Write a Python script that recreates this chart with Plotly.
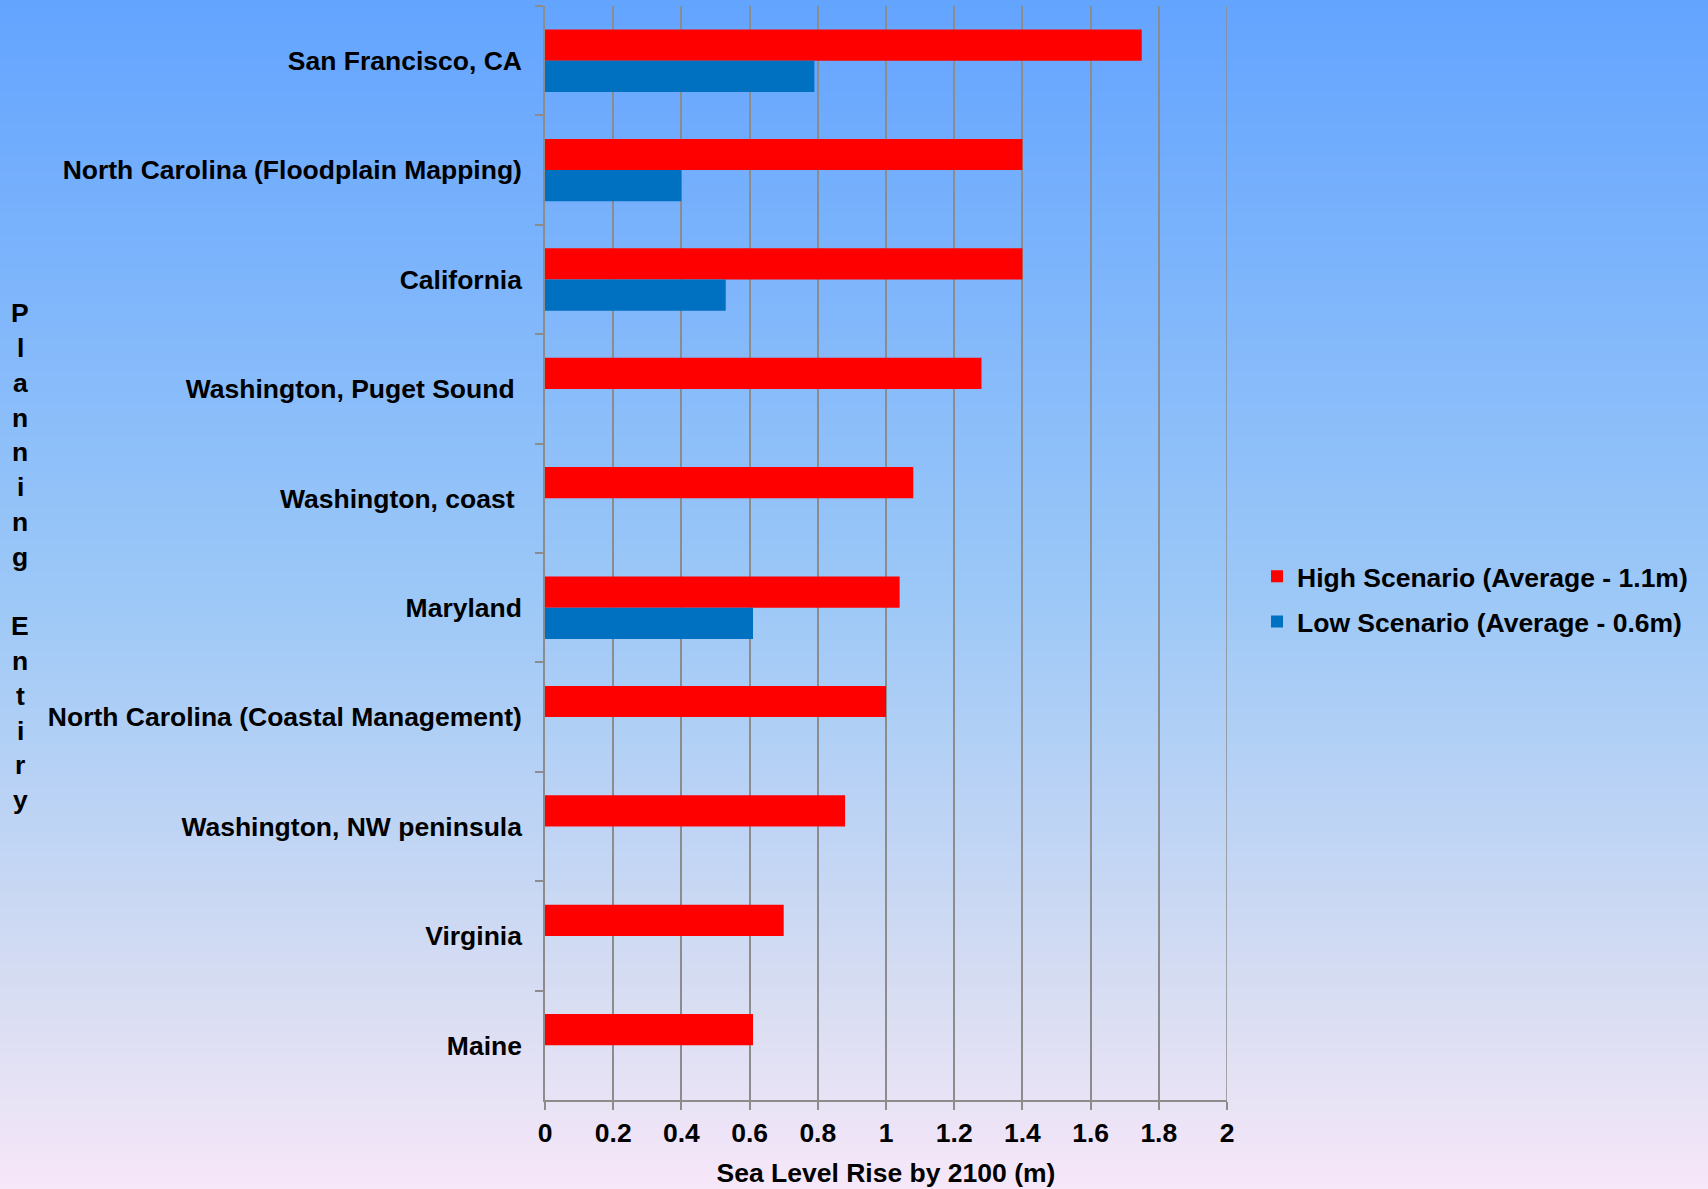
import base64, struct, zlib
import plotly.graph_objects as go

# ---------------- data ----------------
categories = [
    "San Francisco, CA",
    "North Carolina (Floodplain Mapping)",
    "California",
    "Washington, Puget Sound\u00a0",
    "Washington, coast\u00a0",
    "Maryland",
    "North Carolina (Coastal Management)",
    "Washington, NW peninsula",
    "Virginia",
    "Maine",
]
high_values = [1.75, 1.40, 1.40, 1.28, 1.08, 1.04, 1.00, 0.88, 0.70, 0.61]
low_values = [0.79, 0.40, 0.53, None, None, 0.61, None, None, None, None]
high_name = "High Scenario (Average - 1.1m)"
low_name = "Low Scenario (Average - 0.6m)"
x_ticks = [0, 0.2, 0.4, 0.6, 0.8, 1, 1.2, 1.4, 1.6, 1.8, 2]
x_tick_labels = ["0", "0.2", "0.4", "0.6", "0.8", "1", "1.2", "1.4", "1.6", "1.8", "2"]
x_max = 2
x_title = "Sea Level Rise by 2100 (m)"
y_title_words = ["Planning", "Entiry"]

# ---------------- layout geometry ----------------
W, H = 1708, 1189
ML, MR, MT, MB = 545, 481, 6, 87
PW, PH = W - ML - MR, H - MT - MB

FONT = "Liberation Sans, Arial, sans-serif"
FS = 26.5
GRID = "#8c8c8c"

# ---------------- gradient background (PNG) ----------------
stops = [(0.0, (99, 164, 255)), (0.5, (156, 200, 247)), (0.85, (218, 222, 242)), (1.0, (247, 231, 249))]

def color_at(t):
    for (t0, c0), (t1, c1) in zip(stops[:-1], stops[1:]):
        if t <= t1:
            f = (t - t0) / (t1 - t0)
            return tuple(int(round(a + (b - a) * f)) for a, b in zip(c0, c1))
    return stops[-1][1]

N = 256
raw = b""
for i in range(N):
    c = color_at(i / (N - 1))
    raw += b"\x00" + bytes(c) * 2

def chunk(tag, data):
    return struct.pack(">I", len(data)) + tag + data + struct.pack(">I", zlib.crc32(tag + data) & 0xffffffff)

png = b"\x89PNG\r\n\x1a\n" + chunk(b"IHDR", struct.pack(">IIBBBBB", 2, N, 8, 2, 0, 0, 0)) \
    + chunk(b"IDAT", zlib.compress(raw, 9)) + chunk(b"IEND", b"")
bg_uri = "data:image/png;base64," + base64.b64encode(png).decode()

# ---------------- figure ----------------
fig = go.Figure()
fig.add_trace(go.Bar(y=categories, x=high_values, name=high_name, orientation="h",
                     legendgroup="high",
                     marker=dict(color="#ff0000", line=dict(width=0))))
fig.add_trace(go.Bar(y=categories, x=low_values, name=low_name, orientation="h",
                     legendgroup="low",
                     marker=dict(color="#0070c0", line=dict(width=0))))

EXT = 4  # extend background a few pixels beyond the page edges
fig.update_layout(
    width=W, height=H,
    margin=dict(l=ML, r=MR, t=MT, b=MB, pad=0),
    paper_bgcolor="rgb(230,225,246)",
    plot_bgcolor="rgba(0,0,0,0)",
    barmode="group", bargap=0.43, bargroupgap=0,
    font=dict(family=FONT, size=FS, color="black", weight="bold"),
    showlegend=True,
    legend=dict(x=1.044, y=0.458, xanchor="left", yanchor="middle",
                bgcolor="rgba(0,0,0,0)", font=dict(size=FS, weight="bold"),
                tracegroupgap=8, itemwidth=30, traceorder="grouped"),
    images=[dict(source=bg_uri, xref="paper", yref="paper",
                 x=-(ML + EXT) / PW, y=1 + (MT + EXT) / PH,
                 sizex=(W + 2 * EXT) / PW, sizey=(H + 2 * EXT) / PH,
                 xanchor="left", yanchor="top", sizing="stretch", layer="below")],
    # gridline at the right edge of the range (plotly hides edge gridlines)
    shapes=[dict(type="line", xref="x", yref="paper", x0=x_max, x1=x_max, y0=0, y1=1,
                 line=dict(color=GRID, width=1.5), layer="below")],
)

fig.update_xaxes(
    range=[0, x_max], tickvals=x_ticks, ticktext=x_tick_labels,
    showgrid=True, gridcolor=GRID, gridwidth=1.5,
    showline=True, linecolor=GRID, linewidth=1.5,
    ticks="outside", ticklen=8, tickwidth=1.5, tickcolor=GRID,
    tickfont=dict(size=FS, weight="bold"), zeroline=False,
    title=dict(text=x_title, font=dict(size=FS, weight="bold"), standoff=17),
)
fig.update_yaxes(
    categoryorder="array", categoryarray=categories, autorange="reversed",
    showgrid=False, showline=True, linecolor=GRID, linewidth=1.5,
    ticks="outside", ticklen=8, tickwidth=1.5, tickcolor=GRID, tickson="boundaries",
    tickfont=dict(size=FS, weight="bold"), ticklabelstandoff=16,
)

# vertical stacked y-axis title letters
line_h = 34.86
first_y_px = 313.7
letters = list(y_title_words[0]) + [""] + list(y_title_words[1])
for i, ch in enumerate(letters):
    if not ch:
        continue
    ypx = first_y_px + i * line_h
    fig.add_annotation(text=ch, xref="paper", yref="paper",
                       x=(20 - ML) / PW, y=1 - (ypx - MT) / PH,
                       xanchor="center", yanchor="middle", showarrow=False,
                       font=dict(size=FS, weight="bold"))

fig.write_html("out.html", config={"displayModeBar": False},
               post_script="document.body.style.margin='0';document.body.style.overflow='hidden';")
